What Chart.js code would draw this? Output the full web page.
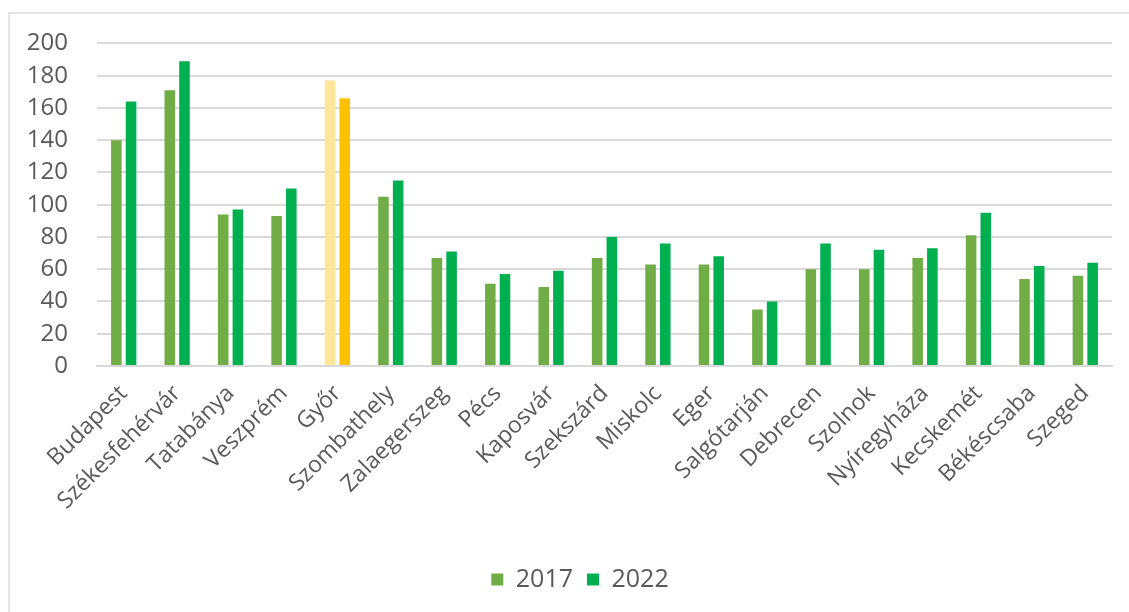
<!DOCTYPE html>
<html>
<head>
<meta charset="utf-8">
<script src="https://cdn.jsdelivr.net/npm/chart.js@4/dist/chart.umd.min.js"></script>
<style>
  html, body { margin: 0; padding: 0; background: #fff; }
  #frame { position: absolute; left: 8px; top: 12px; width: 1200px; height: 700px; border: 2px solid #e3e3e3; box-sizing: border-box; }
  #wrap { position: absolute; left: 0; top: 0; width: 1129px; height: 612px; }
</style>
</head>
<body>
<div id="frame"></div>
<div id="wrap"><canvas id="myChart" width="1129" height="612"></canvas></div>
<script>
// cities on the x axis
const cities = ["Budapest", "Székesfehérvár", "Tatabánya", "Veszprém", "Győr", "Szombathely",
    "Zalaegerszeg", "Pécs", "Kaposvár", "Szekszárd", "Miskolc", "Eger", "Salgótarján",
    "Debrecen", "Szolnok", "Nyíregyháza", "Kecskemét", "Békéscsaba", "Szeged"];

// values
const values2017 = [140, 171, 94, 93, 177, 105, 67, 51, 49, 67, 63, 63, 35, 60, 60, 67, 81, 54, 56];
const values2022 = [164, 189, 97, 110, 166, 115, 71, 57, 59, 80, 76, 68, 40, 76, 72, 73, 95, 62, 64];

const seriesNames = ["2017", "2022"];
const yTicks = [0, 20, 40, 60, 80, 100, 120, 140, 160, 180, 200];
const highlighted = "Győr";

//colours: highlighted city gets yellow shades
function barColours(base, hi) {
    return cities.map(function (c) { return c === highlighted ? hi : base; });
}

//legend sits a bit right of the canvas centre in the original
const legendShift = {
    id: 'legendShift',
    afterLayout: function (chart) {
        chart.legend.left += 48;
    }
};

var ctx = document.getElementById('myChart').getContext('2d');

var myChart = new Chart(ctx, {
    type: 'bar',
    data: {
        labels: cities,
        datasets: [{
            label: seriesNames[0],
            data: values2017,
            backgroundColor: barColours('#70AD47', '#FFE699')
        }, {
            label: seriesNames[1],
            data: values2022,
            backgroundColor: barColours('#00B050', '#FFC000')
        }]
    },
    plugins: [legendShift],
    options: {
        responsive: false,
        animation: false,
        layout: { padding: { left: 0, right: 17, top: 43, bottom: 10 } },
        datasets: { bar: { categoryPercentage: 0.55, barPercentage: 0.72 } },
        plugins: {
            tooltip: { enabled: false },
            legend: {
                position: 'bottom',
                labels: {
                    // legend keeps the green colours, not the Győr ones
                    generateLabels: function (chart) {
                        return chart.data.datasets.map(function (ds, i) {
                            return {
                                text: ds.label,
                                fillStyle: i === 0 ? '#70AD47' : '#00B050',
                                strokeStyle: 'rgba(0,0,0,0)',
                                lineWidth: 0,
                                datasetIndex: i,
                                fontColor: '#595959'
                            };
                        });
                    },
                    boxWidth: 12,
                    boxHeight: 12,
                    padding: 14,
                    color: '#595959',
                    font: { family: 'Open Sans', size: 25 }
                }
            }
        },
        scales: {
            x: {
                grid: { display: false },
                border: { display: true, color: '#d9d9d9', width: 2 },
                ticks: {
                    color: '#595959',
                    font: { family: 'Open Sans', size: 23 },
                    minRotation: 45,
                    maxRotation: 45,
                    autoSkip: false,
                    padding: 6
                },
                afterFit: function (scale) { scale.height = 187; }
            },
            y: {
                min: 0,
                max: 200,
                afterBuildTicks: function (scale) {
                    scale.ticks = yTicks.map(function (v) { return { value: v }; });
                },
                grid: { color: '#d9d9d9', lineWidth: 2, drawTicks: false },
                border: { display: false },
                ticks: {
                    color: '#595959',
                    font: { family: 'Open Sans', size: 24 },
                    padding: 29
                },
                afterFit: function (scale) { scale.width = 97; }
            }
        }
    }
});
</script>
</body>
</html>
